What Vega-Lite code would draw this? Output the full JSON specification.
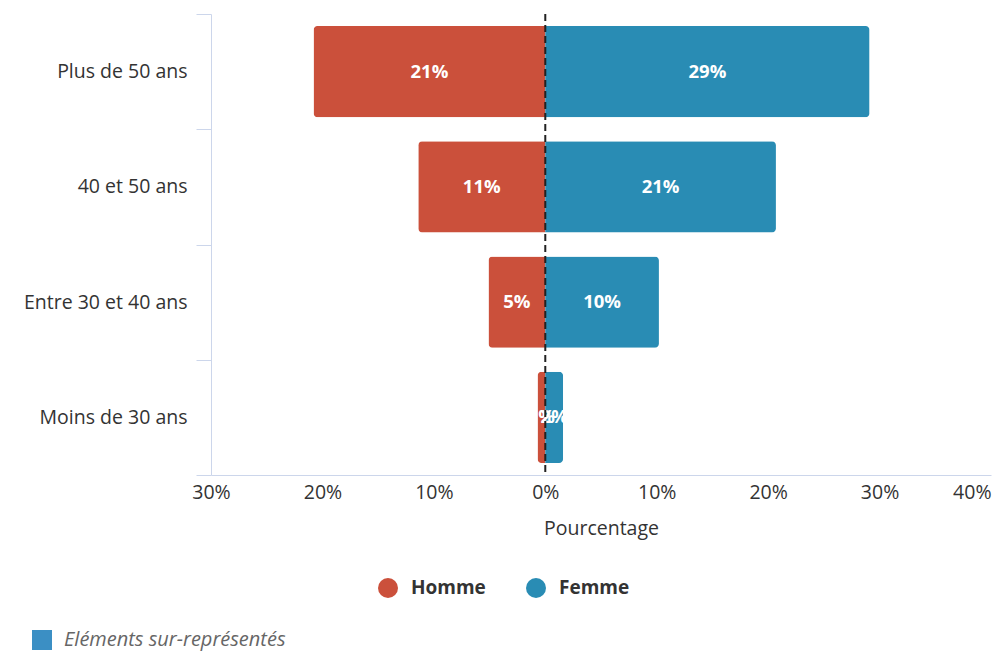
{
  "$schema": "https://vega.github.io/schema/vega-lite/v6.json",
  "width": 780,
  "height": 461,
  "autosize": {"type": "none"},
  "padding": {"left": 211, "top": 14, "right": 4, "bottom": 177},
  "background": "white",
  "config": {
    "view": {"stroke": null},
    "font": "Open Sans",
    "axis": {"labelFont": "Open Sans", "titleFont": "Open Sans", "labelColor": "#333333", "titleColor": "#333333"},
    "legend": {"labelFont": "Open Sans"}
  },
  "data": {
    "values": [
      {"age": "Plus de 50 ans", "sexe": "Homme", "pct": 20.8},
      {"age": "Plus de 50 ans", "sexe": "Femme", "pct": 29.1},
      {"age": "40 et 50 ans", "sexe": "Homme", "pct": 11.4},
      {"age": "40 et 50 ans", "sexe": "Femme", "pct": 20.7},
      {"age": "Entre 30 et 40 ans", "sexe": "Homme", "pct": 5.1},
      {"age": "Entre 30 et 40 ans", "sexe": "Femme", "pct": 10.2},
      {"age": "Moins de 30 ans", "sexe": "Homme", "pct": 0.7},
      {"age": "Moins de 30 ans", "sexe": "Femme", "pct": 1.6}
    ]
  },
  "transform": [
    {"calculate": "datum.sexe === 'Homme' ? -datum.pct : datum.pct", "as": "v"},
    {"calculate": "datum.v / 2", "as": "mid"},
    {"calculate": "format(datum.pct, '.0f') + '%'", "as": "label"}
  ],
  "layer": [
    {
      "mark": {"type": "bar", "cornerRadius": 4, "height": {"band": 0.79}},
      "encoding": {
        "y": {
          "field": "age", "type": "nominal",
          "sort": ["Plus de 50 ans", "40 et 50 ans", "Entre 30 et 40 ans", "Moins de 30 ans"],
          "scale": {"paddingInner": 0, "paddingOuter": 0},
          "axis": {
            "title": null, "tickBand": "extent", "tickSize": 15, "tickColor": "#ccd6eb",
            "domainColor": "#ccd6eb", "labelFontSize": 19.5, "labelPadding": 9, "labelLimit": 300
          }
        },
        "x": {
          "field": "v", "type": "quantitative",
          "scale": {"domain": [-30, 40], "nice": false, "zero": false},
          "axis": {
            "title": "Pourcentage", "values": [-30, -20, -10, 0, 10, 20, 30, 40],
            "labelExpr": "abs(datum.value) + '%'",
            "labelAlign": {"condition": {"test": "datum.value == 40", "value": "right"}, "value": "center"},
            "ticks": false, "grid": false, "domainColor": "#ccd6eb",
            "labelPadding": 8, "labelFontSize": 19.5, "titlePadding": 18,
            "titleFontSize": 19.5, "titleFontWeight": "normal"
          }
        },
        "color": {
          "field": "sexe", "type": "nominal",
          "scale": {"domain": ["Homme", "Femme"], "range": ["#cb503b", "#298cb4"]},
          "legend": {
            "orient": "none", "legendX": 167, "legendY": 564, "direction": "horizontal",
            "title": null, "symbolType": "circle", "symbolSize": 400, "symbolStrokeWidth": 0,
            "labelFontWeight": "bold", "labelFontSize": 19, "labelColor": "#333333",
            "labelOffset": 13, "columnPadding": 40
          }
        }
      }
    },
    {
      "mark": {"type": "text", "color": "white", "fontWeight": "bold", "fontSize": 18.5, "font": "Open Sans"},
      "encoding": {
        "y": {"field": "age", "type": "nominal", "sort": ["Plus de 50 ans", "40 et 50 ans", "Entre 30 et 40 ans", "Moins de 30 ans"]},
        "x": {"field": "mid", "type": "quantitative"},
        "text": {"field": "label"}
      }
    },
    {
      "data": {"values": [{"legende": "Eléments sur-représentés"}]},
      "mark": {"type": "rule", "color": "#222222", "strokeWidth": 2},
      "encoding": {
        "x": {"datum": 0, "type": "quantitative"},
        "strokeDash": {
          "field": "legende", "type": "nominal",
          "scale": {"range": [[7, 4]]},
          "legend": {
            "orient": "none", "legendX": -179, "legendY": 616, "title": null,
            "symbolType": "square", "symbolSize": 400, "symbolStrokeWidth": 0,
            "symbolFillColor": "#3b8fc4",
            "labelFontStyle": "italic", "labelColor": "#666666", "labelFontSize": 20,
            "labelOffset": 12, "labelLimit": 400,
            "encode": {"symbols": {"update": {"fill": {"value": "#3b8fc4"}, "strokeWidth": {"value": 0}, "opacity": {"value": 1}}}}
          }
        }
      }
    }
  ]
}
